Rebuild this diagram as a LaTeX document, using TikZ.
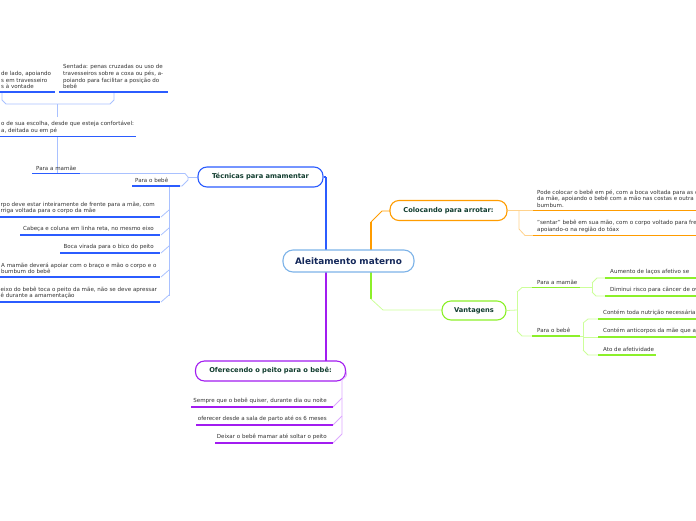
\documentclass[tikz,border=0pt]{standalone}
\usepackage{fontspec}
\setmainfont{DejaVu Sans}
\definecolor{rootline}{HTML}{7DB3E8}
\definecolor{rootink}{HTML}{14285A}
\definecolor{topicink}{HTML}{113D2F}
\definecolor{leafink}{HTML}{333333}
\definecolor{bluedeep}{HTML}{2B5CFF}
\definecolor{bluepale}{HTML}{A9C1FF}
\definecolor{orangedeep}{HTML}{FF9C00}
\definecolor{orangepale}{HTML}{FFD28C}
\definecolor{greendeep}{HTML}{8CF02A}
\definecolor{greenpale}{HTML}{CCFF99}
\definecolor{purpledeep}{HTML}{A21CF0}
\definecolor{purplepale}{HTML}{DDA8FF}

\tikzset{
  topic/.style={draw, fill=white, rounded corners=9pt, line width=1.1pt, inner sep=0pt,
    minimum height=20pt, text=topicink, font=\fontsize{6.7}{7}\selectfont\bfseries},
  leaf/.style={inner sep=0pt, text=leafink, font=\fontsize{5.55}{6.6}\selectfont},
  trunk/.style={line width=2.6pt},
  uline/.style={line width=1.5pt},
  twig/.style={line width=0.8pt}
}

\begin{document}
\begin{tikzpicture}[x=1pt,y=-1pt]
  \useasboundingbox (0,0) rectangle (696,520);
  \clip (0,0) rectangle (696,520); % leaves run off the page

  % main branches
  \coordinate (tb) at (326,250);
  \coordinate (tp) at (326,361);
  \coordinate (to) at (371,250);
  \coordinate (tg) at (371,272);
  \draw[trunk, bluedeep] (326,177) -- (tb);
  \draw[trunk, purpledeep] (326,272) -- (tp);
  \draw[trunk, orangedeep] (to) -- (371,222);
  \draw[twig, orangedeep] (371,222) -- (382,211) -- (390,211);
  \draw[trunk, greendeep] (tg) -- (371,299);
  \draw[twig, greenpale] (371,299) -- (383,310) -- (442,310);

  \node[topic, draw=rootline, minimum width=131pt, minimum height=22pt, rounded corners=10pt,
    text=rootink, font=\fontsize{8.9}{9}\selectfont\bfseries] (root) at (348.5,261) {Aleitamento materno};
  \node[topic, draw=bluedeep, minimum width=125pt] (tec) at (260.5,177) {Técnicas para amamentar};
  \node[topic, draw=orangedeep, minimum width=117pt] (col) at (448.5,210.5) {Colocando para arrotar:};
  \node[topic, draw=greendeep, minimum width=64pt, minimum height=19pt] (van) at (474,310.5) {Vantagens};
  \node[topic, draw=purpledeep, minimum width=150pt] (ofe) at (270.5,371) {Oferecendo o peito para o bebê:};
  \draw[trunk, bluedeep] (tec.east) -- (326,177);

  % Tecnicas para amamentar
  \draw[twig, bluepale] (tec.west) -- (188,177);
  \draw[twig, bluepale] (188,177) -- (185,173.5) -- (80,173.5);
  \draw[twig, bluepale] (188,177) -- (188,180) -- (182,186) -- (178,186);
  \draw[twig, bluepale] (57,173.5) -- (57,136.5);
  \draw[twig, bluepale] (57,117) -- (57,104);
  \draw[twig, bluepale] (2,92) -- (2,100) -- (6,104) -- (110,104) -- (114,100) -- (114,92);
  \draw[twig, bluepale] (169,186) -- (169,296);
  \foreach \y in {217,235,253,277,302}
    \draw[twig, bluepale] (161,\y) -- (169,\y-7);

  \draw[uline, bluedeep] (32,173.5) -- (80,173.5);
  \draw[uline, bluedeep] (132,186) -- (180,186);
  \draw[uline, bluedeep] (0,136.5) -- (136,136.5);
  \draw[uline, bluedeep] (0,92) -- (55,92);
  \draw[uline, bluedeep] (59,92) -- (168,92);
  \draw[uline, bluedeep] (0,217) -- (160,217);
  \draw[uline, bluedeep] (20,235) -- (160,235);
  \draw[uline, bluedeep] (60,253) -- (160,253);
  \draw[uline, bluedeep] (0,277) -- (160,277);
  \draw[uline, bluedeep] (0,302) -- (160,302);

  \node[leaf, anchor=south west] (pmae) at (36,170.5) {Para a mamãe};
  \node[leaf, anchor=south west] (pbebe) at (135,183) {Para o bebê};
  \node[leaf, anchor=south west, align=left] (conf) at (1,133.5)
    {o de sua escolha, desde que esteja confortável:\\a, deitada ou em pé};
  \node[leaf, anchor=south west, align=left] (lado) at (1,89)
    {de lado, apoiando\\s em travesseiro\\s à vontade};
  \node[leaf, anchor=south west, align=left] (sent) at (63,89)
    {Sentada: penas cruzadas ou uso de\\travesseiros sobre a coxa ou pés, a-\\poiando para facilitar a posição do\\bebê};
  \node[leaf, anchor=south west, align=left] (corpo) at (0.5,214)
    {rpo deve estar inteiramente de frente para a mãe, com\\rriga voltada para o corpo da mãe};
  \node[leaf, anchor=south east] (cabeca) at (154,232) {Cabeça e coluna em linha reta, no mesmo eixo};
  \node[leaf, anchor=south east] (boca) at (154,250) {Boca virada para o bico do peito};
  \node[leaf, anchor=south west, align=left] (apoio) at (1,274)
    {A mamãe deverá apoiar com o braço e mão o corpo e o\\bumbum do bebê};
  \node[leaf, anchor=south west, align=left] (eixo) at (0.5,299)
    {eixo do bebê toca o peito da mãe, não se deve apressar\\ê durante a amamentação};

  % Colocando para arrotar
  \draw[twig, orangepale] (col.east) -- (533,210.5);
  \draw[twig, orangepale] (519,210.5) -- (519,229) -- (525,235.5) -- (533,235.5);
  \draw[uline, orangedeep] (533,210.5) -- (696,210.5);
  \draw[uline, orangedeep] (533,235.5) -- (696,235.5);
  \node[leaf, anchor=south west, align=left] (empe) at (537,207.5)
    {Pode colocar o bebê em pé, com a boca voltada para as c\\da mãe, apoiando o bebê com a mão nas costas e outra n\\bumbum.};
  \node[leaf, anchor=south west, align=left] (sentar) at (537,232.5)
    {"sentar" bebê em sua mão, com o corpo voltado para fre\\apoiando-o na região do tóax};

  % Vantagens
  \draw[twig, greenpale] (van.east) -- (517,310);
  \draw[twig, greenpale] (517,292) -- (517,331);
  \draw[twig, greenpale] (517,292) -- (522,287.5) -- (532,287.5);
  \draw[twig, greenpale] (517,331) -- (522,336) -- (532,336);
  \draw[twig, greenpale] (580,287.5) -- (592,287.5);
  \draw[twig, greenpale] (592,283) -- (592,292);
  \draw[twig, greenpale] (592,283) -- (597,278) -- (605,278);
  \draw[twig, greenpale] (592,292) -- (596,296) -- (605,296);
  \draw[twig, greenpale] (580,336) -- (583,336);
  \draw[twig, greenpale] (583,323) -- (583,350);
  \draw[twig, greenpale] (583,323) -- (588,319) -- (598,319);
  \draw[twig, greenpale] (583,337) -- (598,337);
  \draw[twig, greenpale] (583,350) -- (588,355) -- (598,355);

  \draw[uline, greendeep] (532,287.5) -- (580,287.5);
  \draw[uline, greendeep] (532,336) -- (580,336);
  \draw[uline, greendeep] (605,278) -- (696,278);
  \draw[uline, greendeep] (605,296) -- (696,296);
  \draw[uline, greendeep] (598,319) -- (696,319);
  \draw[uline, greendeep] (598,337) -- (696,337);
  \draw[uline, greendeep] (598,355) -- (656,355);

  \node[leaf, anchor=south west] (vmae) at (537,284.5) {Para a mamãe};
  \node[leaf, anchor=south west] (vbebe) at (537,333) {Para o bebê};
  \node[leaf, anchor=south west] (lacos) at (610,275) {Aumento de laços afetivo se};
  \node[leaf, anchor=south west] (risco) at (610,293) {Diminui risco para câncer de ov};
  \node[leaf, anchor=south west] (nutri) at (603,316) {Contém toda nutrição necessária};
  \node[leaf, anchor=south west] (anti) at (603,334) {Contém anticorpos da mãe que aj};
  \node[leaf, anchor=south west] (afet) at (603,352) {Ato de afetividade};

  % Oferecendo o peito
  \draw[twig, purplepale] (ofe.east) .. controls (347,376) .. (342,380) -- (342,434);
  \foreach \y in {407,425,443}
    \draw[twig, purplepale] (333,\y) -- (342,\y-9);
  \draw[uline, purpledeep] (191,407) -- (333,407);
  \draw[uline, purpledeep] (196,425) -- (333,425);
  \draw[uline, purpledeep] (215,443) -- (333,443);
  \node[leaf, anchor=south east] (sempre) at (327,404) {Sempre que o bebê quiser, durante dia ou noite};
  \node[leaf, anchor=south east] (sala) at (327,422) {oferecer desde a sala de parto até os 6 meses};
  \node[leaf, anchor=south east] (soltar) at (327,440) {Deixar o bebê mamar até soltar o peito};
\end{tikzpicture}
\end{document}
